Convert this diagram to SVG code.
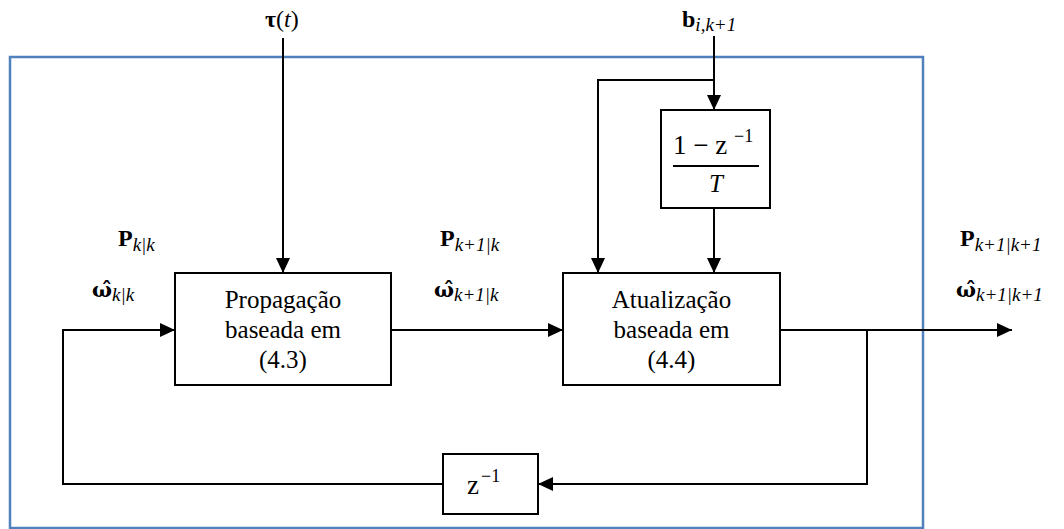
<svg xmlns="http://www.w3.org/2000/svg" width="1064" height="529" viewBox="0 0 1064 529">
<defs>
<marker id="ah" markerUnits="userSpaceOnUse" markerWidth="16" markerHeight="14" refX="15" refY="7" orient="auto">
<path d="M0,0 L15,7 L0,14 z" fill="#000"/>
</marker>
</defs>
<style>
.box{fill:#fff;stroke:#000;stroke-width:2}
.ln{fill:none;stroke:#000;stroke-width:2}
.t{font-family:"Liberation Serif","Times New Roman","DejaVu Serif",serif;font-size:25px;text-anchor:middle}
.mb{font-family:"Liberation Serif","DejaVu Serif",serif;font-weight:bold;font-size:24px}
.om{font-family:"DejaVu Serif","Liberation Serif",serif;font-weight:bold;font-size:21px}
.mi{font-family:"Liberation Serif","DejaVu Serif",serif;font-style:italic;font-weight:normal;font-size:19px}
.mr{font-family:"Liberation Serif","DejaVu Serif",serif;font-weight:normal;font-style:normal}
.it{font-family:"Liberation Serif","DejaVu Serif",serif;font-weight:normal;font-style:italic}
</style>
<rect x="10" y="57" width="913" height="471" fill="none" stroke="#4f81bd" stroke-width="2.5"/>

<g id="connectors">
<path class="ln" d="M283,38 V273" marker-end="url(#ah)"/>
<path class="ln" d="M714,36 V110" marker-end="url(#ah)"/>
<path class="ln" d="M714,80 H598 V273" marker-end="url(#ah)"/>
<path class="ln" d="M714,208 V273" marker-end="url(#ah)"/>
<path class="ln" d="M391,330 H563" marker-end="url(#ah)"/>
<path class="ln" d="M443,484 H63 V330 H175" marker-end="url(#ah)"/>
<path class="ln" d="M780,330 H1012" marker-end="url(#ah)"/>
<path class="ln" d="M867,330 V484 H538" marker-end="url(#ah)"/>
</g>

<g id="prop">
<rect class="box" x="175" y="273" width="216" height="112"/>
<text class="t" x="283" y="308">Propagação</text>
<text class="t" x="283" y="338">baseada em</text>
<text class="t" x="283" y="368">(4.3)</text>
</g>

<g id="atual">
<rect class="box" x="563" y="273" width="217" height="112"/>
<text class="t" x="671.5" y="308">Atualização</text>
<text class="t" x="671.5" y="338">baseada em</text>
<text class="t" x="671.5" y="368">(4.4)</text>
</g>

<g id="diff">
<rect class="box" x="661" y="110" width="109" height="98"/>
<text class="mr" x="673" y="154" font-size="27">1 − z</text>
<text class="mr" x="734" y="142" font-size="18">−1</text>
<line x1="673" y1="166" x2="759" y2="166" stroke="#000" stroke-width="2"/>
<text class="it" x="716" y="192" font-size="25" text-anchor="middle">T</text>
</g>

<g id="delay">
<rect class="box" x="443" y="454" width="95" height="60"/>
<text class="mr" x="467" y="494" font-size="27">z</text>
<text class="mr" x="481" y="482" font-size="18">−1</text>
</g>

<g id="labels">
<text class="mb" x="265" y="27" font-size="26">τ<tspan class="mr">(</tspan><tspan class="it">t</tspan><tspan class="mr">)</tspan></text>
<text class="mb" x="682" y="27" font-size="26">b<tspan class="mi" dy="4">i,k+1</tspan></text>

<text class="mb" x="118" y="246">P<tspan class="mi" dy="5">k|k</tspan></text>
<text class="om" x="92" y="297">ω̂<tspan class="mi" dy="4">k|k</tspan></text>

<text class="mb" x="440" y="246">P<tspan class="mi" dy="5">k+1|k</tspan></text>
<text class="om" x="434" y="297">ω̂<tspan class="mi" dy="4">k+1|k</tspan></text>

<text class="mb" x="960" y="246">P<tspan class="mi" dy="5">k+1|k+1</tspan></text>
<text class="om" x="956" y="297">ω̂<tspan class="mi" dy="4">k+1|k+1</tspan></text>
</g>
</svg>
